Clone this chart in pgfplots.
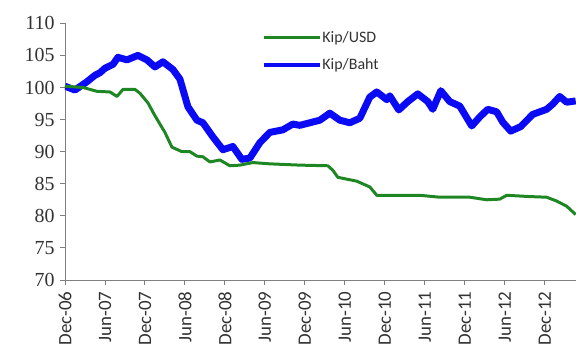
\documentclass[border=0pt]{standalone}
\usepackage{pgfplots}
\pgfplotsset{compat=1.18}
\usepackage{fontspec}
\setmainfont{Liberation Serif}
\newfontfamily\calibri{Carlito}
\definecolor{kipgreen}{RGB}{30,135,35}
\definecolor{kipblue}{RGB}{10,10,245}
\definecolor{axgray}{RGB}{128,128,128}
\definecolor{txt}{RGB}{50,50,50}
\begin{document}
\begin{tikzpicture}
\begin{axis}[
  scale only axis,
  width=511bp, height=256.7bp,
  at={(0,0)}, anchor=south west,
  xmin=0, xmax=76.7,
  ymin=70, ymax=110,
  ytick={70,75,...,110},
  xtick={0,6,...,72},
  xticklabels={Dec-06,Jun-07,Dec-07,Jun-08,Dec-08,Jun-09,Dec-09,Jun-10,Dec-10,Jun-11,Dec-11,Jun-12,Dec-12},
  axis x line=bottom, axis y line=left,
  axis line style={-, draw=axgray, line width=0.9pt},
  tick style={draw=axgray, line width=0.9pt},
  tick align=outside,
  major tick length=5bp,
  /pgf/number format/assume math mode=true,
  yticklabel style={font=\fontsize{20}{20}\selectfont, text=txt, xshift=-2bp},
  xticklabel style={font=\calibri\fontsize{19}{19}\selectfont, text=txt, rotate=90, anchor=east, xshift=-3bp},
  legend style={at={(0.385,0.985)}, anchor=north west, draw=none, fill=none,
     font=\calibri\fontsize{16}{16}\selectfont, text=txt, row sep=11bp, cells={anchor=west},
     inner xsep=0pt, nodes={inner xsep=1bp}},
  legend image code/.code={\draw[#1] (0bp,0bp) -- (56bp,0bp);},
  clip=true,
]
\addplot[kipblue, line width=7pt, line join=round, forget plot] coordinates {
(0,100.2) (1.5,99.6) (3.3,100.9) (4.5,101.9) (5.25,102.3) (6,103) (7.2,103.6) (7.95,104.7)
(9.3,104.3) (10.95,105) (12.3,104.3) (13.5,103.2) (14.7,104) (16.2,102.8) (17.25,101.3)
(18.45,97) (19.8,94.9) (20.7,94.5) (22.2,92.3) (23.7,90.3) (25.2,90.8) (26.55,88.8)
(27.75,89) (29.25,91.4) (30.75,93) (32.7,93.4) (34.2,94.3) (35.25,94.1) (36.75,94.5)
(38.25,94.9) (39.75,96) (41.25,94.9) (42.75,94.5) (44.25,95.2) (45.75,98.5) (46.8,99.3)
(48.3,98.1) (48.75,98.7) (50.1,96.5) (51.45,97.8) (52.95,99) (54.45,97.8) (55.2,96.6)
(56.4,99.5) (57.75,97.8) (59.25,97.1) (61.05,94) (62.25,95.4) (63.45,96.6) (64.8,96.2)
(65.7,94.6) (66.9,93.2) (68.4,93.9) (70.2,95.8) (72.3,96.6) (73.2,97.4) (74.25,98.6)
(75.3,97.7) (76.65,97.9)
};
\addplot[kipgreen, line width=3pt, line join=round, forget plot] coordinates {
(0,100.2) (2.7,100) (4.8,99.4) (6.75,99.3) (7.8,98.6) (8.7,99.7) (10.5,99.7) (11.25,99.1)
(12.45,97.6) (13.5,95.6) (15,93) (16.05,90.7) (17.55,90) (18.75,90) (19.8,89.3) (20.7,89.2)
(21.75,88.4) (23.25,88.7) (24.75,87.8) (26.25,87.9) (28.2,88.3) (30.75,88.1) (35.25,87.9)
(39.45,87.8) (40.2,87.1) (40.95,86) (43.8,85.4) (45.75,84.5) (46.8,83.2) (53.25,83.2)
(56.25,82.9) (60.75,82.9) (63.3,82.5) (65.25,82.6) (66.3,83.2) (69.75,83) (72.3,82.9)
(73.8,82.3) (75.3,81.5) (76.65,80.2)
};
\addlegendimage{kipgreen, line width=3.5pt}
\addlegendentry{Kip/USD}
\addlegendimage{kipblue, line width=3.5pt}
\addlegendentry{Kip/Baht}
\end{axis}
\pgfresetboundingbox
\path (-65bp,-74bp) rectangle (511bp,280bp);
\end{tikzpicture}
\end{document}
